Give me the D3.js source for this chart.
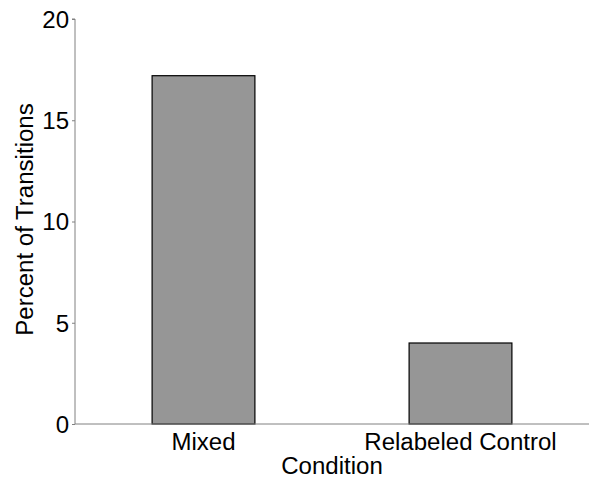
<!DOCTYPE html>
<html>
<head>
<meta charset="utf-8">
<script src="https://cdn.jsdelivr.net/npm/d3@7"></script>
<style>
  body { margin: 0; background: #fff; }
  text { font-family: "Liberation Sans", Arial, Helvetica, sans-serif; fill: #000; }
</style>
</head>
<body>
<svg id="chart" width="600" height="484"></svg>
<script>
const categories = ["Mixed", "Relabeled Control"];
const values = [17.2, 4.0];
const yTicks = [0, 5, 10, 15, 20];
const yLabel = "Percent of Transitions";
const xLabel = "Condition";

const svg = d3.select("#chart");
const mLeft = 75, mRight = 589, mTop = 19, mBottom = 424;
const stretch = 1.045;
const fs = 23;

const x = d3.scaleBand().domain(categories).range([mLeft, mRight])
  .paddingInner(0.6).paddingOuter(0.3);
const y = d3.scaleLinear().domain([0, 20]).range([mBottom, mTop]);

function widen(sel) {
  sel.each(function() {
    const len = this.getComputedTextLength();
    d3.select(this).attr("textLength", len * stretch).attr("lengthAdjust", "spacingAndGlyphs");
  });
}

// bars
svg.append("g").selectAll("rect").data(values).join("rect")
  .attr("x", (d, i) => x(categories[i]))
  .attr("width", x.bandwidth())
  .attr("y", d => y(d))
  .attr("height", d => y(0) - y(d))
  .attr("fill", "#969696")
  .attr("stroke", "#000")
  .attr("stroke-width", 1.2);

// y axis
const yAxis = svg.append("g").attr("transform", `translate(${mLeft},0)`)
  .call(d3.axisLeft(y).tickValues(yTicks).tickSize(3).tickPadding(3).tickFormat(d3.format("d")));
yAxis.select(".domain").attr("stroke", "#808080").attr("d", `M-3,${mTop}H0V${mBottom}`);
yAxis.selectAll(".tick line").attr("stroke", "#808080");
yAxis.selectAll(".tick text").attr("font-size", fs).attr("font-family", null).attr("fill", "#000").attr("dy", "0.36em");
widen(yAxis.selectAll(".tick text"));

// x axis
const xAxis = svg.append("g").attr("transform", `translate(0,${mBottom})`)
  .call(d3.axisBottom(x).tickSize(0).tickPadding(10));
xAxis.select(".domain").attr("stroke", "#808080").attr("d", `M${mLeft},0H${mRight}`);
xAxis.selectAll(".tick text").attr("font-size", fs).attr("font-family", null).attr("fill", "#000").attr("dy", "0.71em");
widen(xAxis.selectAll(".tick text"));

// labels
svg.append("text").attr("x", (mLeft + mRight) / 2).attr("y", 474)
  .attr("text-anchor", "middle").attr("font-size", fs).text(xLabel).call(widen);
svg.append("text").attr("transform", `translate(33,${(mTop + mBottom) / 2 - 2}) rotate(-90)`)
  .attr("text-anchor", "middle").attr("font-size", fs).text(yLabel).call(widen);
</script>
</body>
</html>
